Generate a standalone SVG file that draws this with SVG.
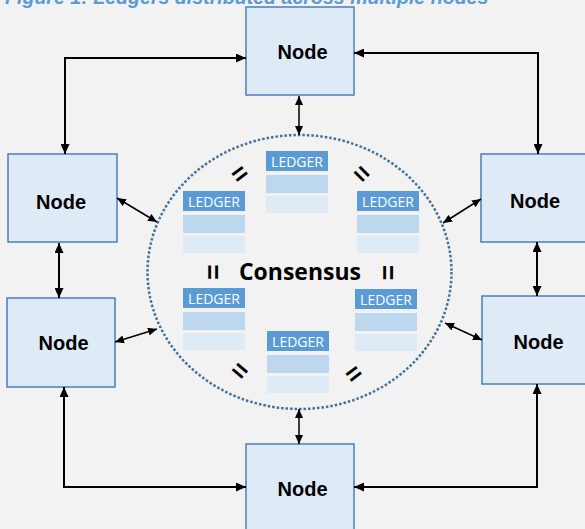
<svg xmlns="http://www.w3.org/2000/svg" width="585" height="529" viewBox="0 0 585 529">
  <defs>
    <marker id="ah" markerUnits="userSpaceOnUse" markerWidth="11" markerHeight="9" refX="10" refY="4.5" orient="auto-start-reverse" viewBox="0 0 11 9">
      <path d="M0,0 L10,4.5 L0,9 Z" fill="#000"/>
    </marker>
    <marker id="ahs" markerUnits="userSpaceOnUse" markerWidth="10" markerHeight="8" refX="9" refY="4" orient="auto-start-reverse" viewBox="0 0 10 8">
      <path d="M0,0 L9,4 L0,8 Z" fill="#000"/>
    </marker>
    <g id="ledger">
      <rect x="0" y="0" width="62" height="20" fill="#5b9bd5"/>
      <rect x="0" y="24" width="62" height="18" fill="#bdd7ee"/>
      <rect x="0" y="45" width="62" height="17" fill="#deebf7"/>
      <text x="31" y="16.3" class="lt">LEDGER</text>
    </g>
  </defs>
  <style>
    .node rect { fill: #deebf7; stroke: #4a7ebb; stroke-width: 1.5; }
    .node text { font-family: "Liberation Sans", Arial, sans-serif; font-weight: bold; font-size: 20px; fill: #000; text-anchor: middle; }
    .lt { font-family: "Open Sans", "Noto Sans", sans-serif; font-size: 14px; fill: #fff; text-anchor: middle; }
    .eq { font-family: "Liberation Sans", Arial, sans-serif; font-weight: bold; font-size: 26px; fill: #000; text-anchor: middle; }
    .c { fill: none; stroke: #000; stroke-width: 2; }
    .cs { fill: none; stroke: #000; stroke-width: 1.5; }
  </style>
  <rect x="0" y="0" width="585" height="529" fill="#f2f2f2"/>
  <text x="5" y="3.5" font-family="Liberation Sans, Arial, sans-serif" font-weight="bold" font-style="italic" font-size="19.6" fill="#5b9bd5">Figure 1: Ledgers distributed across multiple nodes</text>

  <g id="consensus">
    <ellipse cx="299.5" cy="272" rx="152" ry="137" fill="none" stroke="#41719c" stroke-width="2.5" stroke-dasharray="2.5 2"/>
    <text x="300" y="279.5" font-family="Open Sans, Noto Sans, sans-serif" font-weight="bold" font-size="23" text-anchor="middle" fill="#000">Consensus</text>
    <use href="#ledger" x="266" y="151"/>
    <use href="#ledger" x="183" y="191"/>
    <use href="#ledger" x="357" y="191"/>
    <use href="#ledger" x="183" y="288"/>
    <use href="#ledger" x="355" y="289"/>
    <use href="#ledger" x="267" y="331"/>
    <text class="eq" transform="translate(239.5,173.5) rotate(-37)" x="0" y="9">=</text>
    <text class="eq" transform="translate(362,173.5) rotate(45)" x="0" y="9">=</text>
    <text class="eq" transform="translate(213,272) rotate(90)" x="0" y="9">=</text>
    <text class="eq" transform="translate(387.5,272.5) rotate(90)" x="0" y="9">=</text>
    <text class="eq" transform="translate(240,370.5) rotate(40)" x="0" y="9">=</text>
    <text class="eq" transform="translate(353.5,373.5) rotate(-37)" x="0" y="9">=</text>
  </g>

  <g id="node-top" class="node"><rect x="246" y="7" width="108" height="88"/><text x="302.5" y="59">Node</text></g>
  <g id="node-left-upper" class="node"><rect x="8" y="154" width="109" height="88"/><text x="61" y="209">Node</text></g>
  <g id="node-left-lower" class="node"><rect x="7" y="298" width="108" height="89"/><text x="63.5" y="350">Node</text></g>
  <g id="node-right-upper" class="node"><rect x="481" y="154" width="108" height="88"/><text x="535" y="208">Node</text></g>
  <g id="node-right-lower" class="node"><rect x="482" y="296" width="108" height="88"/><text x="538.5" y="349">Node</text></g>
  <g id="node-bottom" class="node"><rect x="246" y="444" width="108" height="88"/><text x="302.5" y="496">Node</text></g>

  <g id="connectors">
    <path class="c" d="M65,154 V58 H246" marker-start="url(#ah)" marker-end="url(#ah)"/>
    <path class="c" d="M354,53 H538 V154" marker-start="url(#ah)" marker-end="url(#ah)"/>
    <path class="c" d="M64,387 V487 H246" marker-start="url(#ah)" marker-end="url(#ah)"/>
    <path class="c" d="M537,384 V487 H354" marker-start="url(#ah)" marker-end="url(#ah)"/>
    <path class="c" d="M59,243 V298" marker-start="url(#ah)" marker-end="url(#ah)"/>
    <path class="c" d="M537,242 V296" marker-start="url(#ah)" marker-end="url(#ah)"/>
    <path class="cs" d="M299,96 V135" marker-start="url(#ahs)" marker-end="url(#ahs)"/>
    <path class="cs" d="M299,409 V444" marker-start="url(#ahs)" marker-end="url(#ahs)"/>
    <path class="cs" d="M117,198 L157,222" marker-start="url(#ahs)" marker-end="url(#ahs)"/>
    <path class="cs" d="M115,342 L157,329" marker-start="url(#ahs)" marker-end="url(#ahs)"/>
    <path class="cs" d="M443,223 L481,199" marker-start="url(#ahs)" marker-end="url(#ahs)"/>
    <path class="cs" d="M445,323 L482,340" marker-start="url(#ahs)" marker-end="url(#ahs)"/>
  </g>
</svg>
